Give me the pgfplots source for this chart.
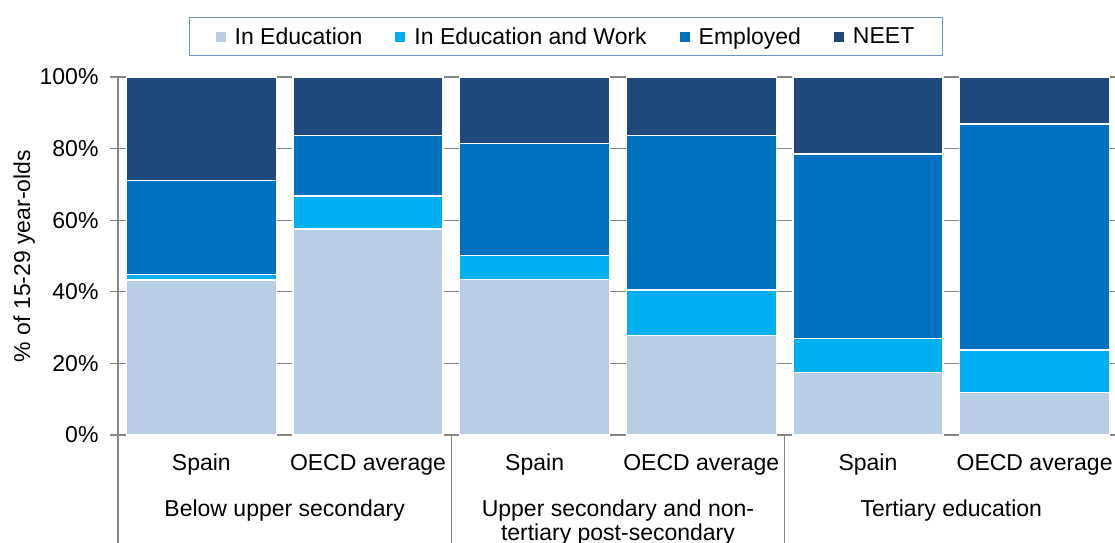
\documentclass[border=0pt]{standalone}
\usepackage{fontspec}
\setmainfont{Liberation Sans}
\usepackage{pgfplots}
\usepackage{pgfplotstable}
\pgfplotsset{compat=1.18}
\definecolor{cEd}{HTML}{B9CDE5}
\definecolor{cEdW}{HTML}{00B0F0}
\definecolor{cEmp}{HTML}{0070C0}
\definecolor{cNeet}{HTML}{1F497D}
\definecolor{axgray}{HTML}{868686}
\definecolor{legborder}{HTML}{6F93C9}
\newcommand\f{\fontsize{23bp}{25bp}\selectfont}

\pgfplotstableread{
x ed edw emp neet
0 43.3 1.6 26.2 28.9
1 57.6 9.1 17.0 16.3
2 43.5 6.7 31.2 18.6
3 27.8 12.7 43.2 16.3
4 17.5 9.5 51.5 21.5
5 11.9 11.8 63.2 13.1
}\data

\begin{document}
\begin{tikzpicture}
\clip (-118bp,-108bp) rectangle (997bp,435bp);
\begin{axis}[
  at={(0bp,0bp)}, anchor=south west,
  scale only axis, width=1000bp, height=358bp,
  ybar stacked, bar width=0.9,
  xmin=-0.5, xmax=5.5, ymin=0, ymax=100,
  xtick={0,...,5},
  xticklabels={Spain,OECD average,Spain,OECD average,Spain,OECD average},
  major x tick style={draw=none},
  ytick={0,20,...,100},
  yticklabels={0\%,20\%,40\%,60\%,80\%,100\%},
  ymajorgrids, grid style={axgray, line width=1.2bp},
  axis x line*=bottom, axis y line*=left,
  axis line style={axgray, line width=1.2bp, -},
  tick align=outside, major tick length=8bp,
  ytick style={axgray, line width=1.2bp},
  every tick label/.append style={font=\f, text=black},
  xticklabel style={anchor=base, yshift=-27bp},
  yticklabel style={xshift=-8bp},
  ylabel={\% of 15-29 year-olds}, ylabel style={font=\f, yshift=-2bp},
  legend style={at={(0.448,1.113)}, anchor=center, draw=legborder, line width=1.2bp,
    font=\f, legend columns=4, inner xsep=26bp, inner ysep=8bp,
    /tikz/every odd column/.append style={column sep=7bp},
    /tikz/every even column/.append style={column sep=31bp}},
  legend image code/.code={\fill[#1,draw=none] (0bp,-5bp) rectangle (10bp,5bp);},
  clip=false,
]
\addplot[fill=cEd, draw=white, line width=1.5bp] table[x=x,y=ed]{\data};
\addplot[fill=cEdW, draw=white, line width=1.5bp] table[x=x,y=edw]{\data};
\addplot[fill=cEmp, draw=white, line width=1.5bp] table[x=x,y=emp]{\data};
\addplot[fill=cNeet, draw=white, line width=1.5bp] table[x=x,y=neet]{\data};
\legend{In Education, In Education and Work, Employed, NEET}
\draw[axgray, line width=1.2bp] (axis cs:-0.5,0) -- ++(0bp,-120bp);
\draw[axgray, line width=1.2bp] (axis cs:1.5,0) -- ++(0bp,-120bp);
\draw[axgray, line width=1.2bp] (axis cs:3.5,0) -- ++(0bp,-120bp);
\draw[axgray, line width=1.2bp] (axis cs:5.5,0) -- ++(0bp,-120bp);
\node[font=\f, anchor=base, yshift=-81bp] at (axis cs:0.5,0) {Below upper secondary};
\node[font=\f, anchor=base, yshift=-81bp] at (axis cs:2.5,0) {Upper secondary and non-};
\node[font=\f, anchor=base, yshift=-105bp] at (axis cs:2.5,0) {tertiary post-secondary};
\node[font=\f, anchor=base, yshift=-81bp] at (axis cs:4.5,0) {Tertiary education};
\end{axis}
\end{tikzpicture}
\end{document}
